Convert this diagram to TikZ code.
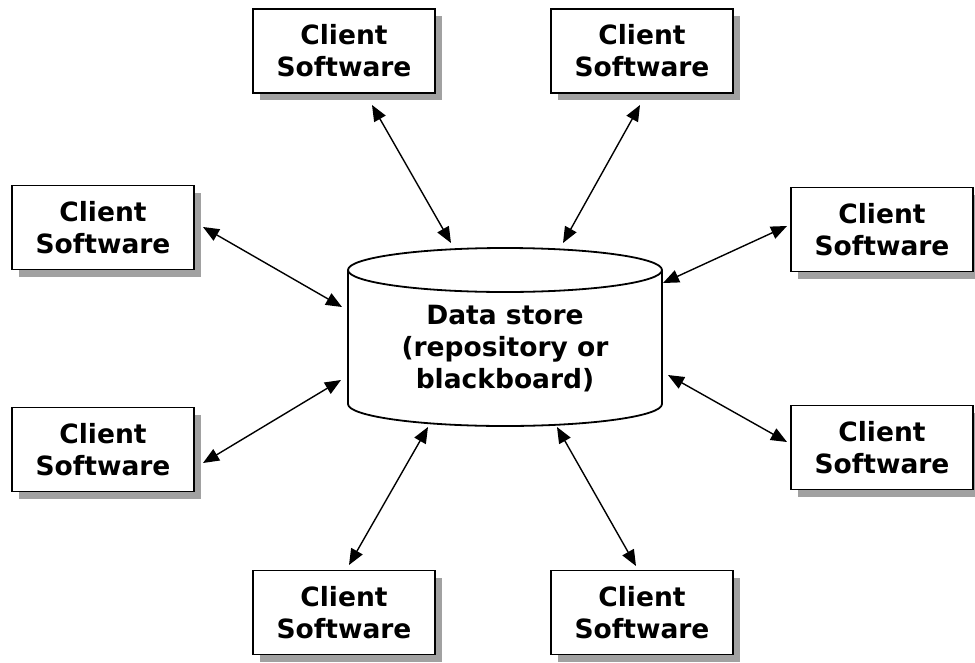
\documentclass[tikz,border=0pt]{standalone}
\usepackage{fontspec}
\setmainfont{DejaVu Sans}
\usetikzlibrary{arrows.meta,shadows}
\begin{document}
\begin{tikzpicture}[x=1pt,y=-1pt,
  box/.style={draw, line width=1.8pt, fill=white, minimum width=182pt, minimum height=84pt,
    align=center, inner sep=0pt, font=\fontsize{26.5}{32}\selectfont\bfseries,
    drop shadow={shadow xshift=7pt, shadow yshift=-7pt, fill=black!37, opacity=1}},
  link/.style={line width=1.4pt, {Triangle[length=16pt,width=13pt]}-{Triangle[length=16pt,width=13pt]}}]
\useasboundingbox (0,0) rectangle (975,662);
% boxes
\node[box] (tl) at (344,51) {Client\\Software};
\node[box] (tr) at (642,51) {Client\\Software};
\node[box] (lu) at (103,227.5) {Client\\Software};
\node[box] (ru) at (882,229.5) {Client\\Software};
\node[box] (ll) at (103,449.5) {Client\\Software};
\node[box] (rl) at (882,447.5) {Client\\Software};
\node[box] (bl) at (344,612.5) {Client\\Software};
\node[box] (br) at (642,612.5) {Client\\Software};
% cylinder
\filldraw[fill=white, line width=1.8pt] (348,270) -- (348,404) arc[start angle=180, end angle=0, x radius=157, y radius=22] -- (662,270);
\draw[line width=1.8pt] (505,270) ellipse [x radius=157, y radius=22];
\node[align=center, font=\fontsize{26.5}{32}\selectfont\bfseries] (ds) at (505,349) {Data store\\(repository or\\blackboard)};
% connector end points
\coordinate (a1) at (372,105); \coordinate (b1) at (451,243);
\coordinate (a2) at (640,105); \coordinate (b2) at (563,243);
\coordinate (a3) at (203,227); \coordinate (b3) at (342,307);
\coordinate (a4) at (787,226); \coordinate (b4) at (663,283);
\coordinate (a5) at (203,463); \coordinate (b5) at (341,380);
\coordinate (a6) at (787,442); \coordinate (b6) at (668,375);
\coordinate (a7) at (349,565); \coordinate (b7) at (428,427);
\coordinate (a8) at (636,566); \coordinate (b8) at (557,427);
\foreach \i in {1,...,8} \draw[link] (a\i) -- (b\i);
\end{tikzpicture}
\end{document}
